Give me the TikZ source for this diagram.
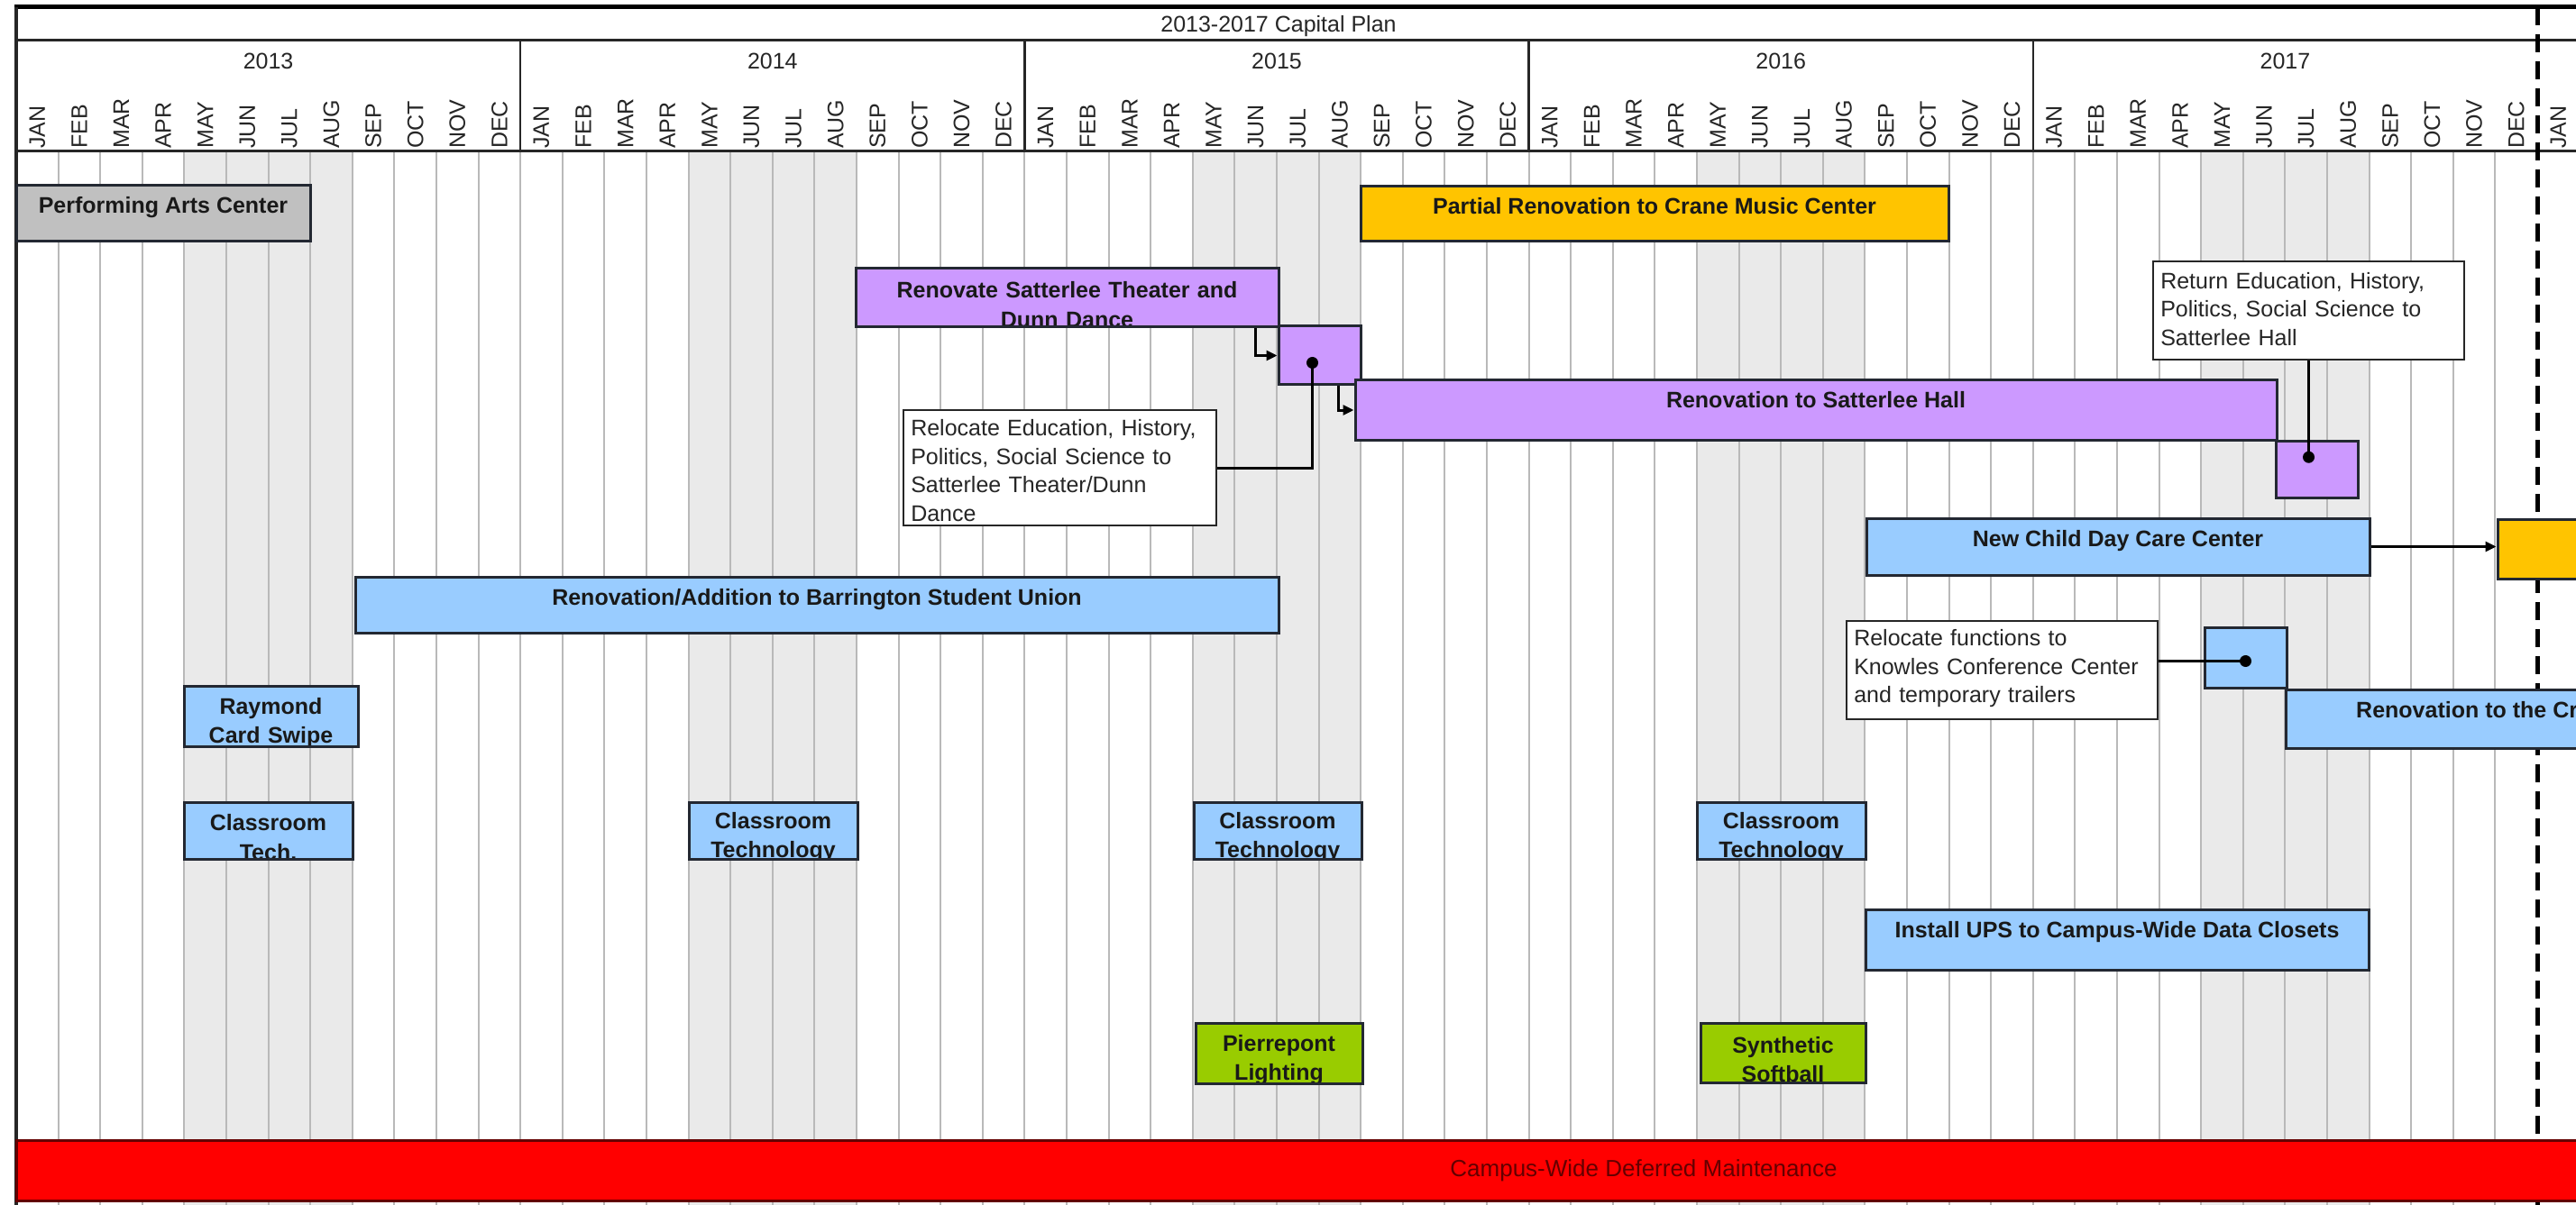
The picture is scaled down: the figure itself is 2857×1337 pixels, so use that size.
\documentclass[tikz,border=0pt]{standalone}
\usepackage{fontspec}
\setmainfont{Liberation Sans}
\usetikzlibrary{fit,arrows.meta,calc}
\definecolor{cblue}{RGB}{153,204,255}
\definecolor{cpurple}{RGB}{204,153,255}
\definecolor{cyellow}{RGB}{255,196,0}
\definecolor{cgray}{RGB}{192,192,192}
\definecolor{cgreen}{RGB}{153,204,0}
\definecolor{cred}{RGB}{255,0,0}
\definecolor{cshade}{RGB}{234,234,234}
\definecolor{cgrid}{RGB}{185,185,185}
\definecolor{cline}{RGB}{35,40,50}
\definecolor{cmaroon}{RGB}{100,0,0}
% one-line bar label
\newcommand\gbar[7]{\node[barnode, fill=#6, fit={(#2,#3) (#4,#5)}, path picture={\node[bartext, anchor=base] (#1t) at ([yshift=-31pt]path picture bounding box.north) {#7};}] (#1) {};}
% two-line bar label
\newcommand\gbartwo[7]{\node[barnode, fill=#6, fit={(#2,#3) (#4,#5)}, path picture={\node[bartext, align=center, anchor=north] (#1t) at ([yshift=-15pt]path picture bounding box.north) {#7};}] (#1) {};}
\newcommand\gcall[7][11]{\node[callnode, fit={(#3,#4) (#5,#6)}, path picture={\node[calltext, anchor=north west] (#2t) at ([xshift=7pt,yshift=-#1pt]path picture bounding box.north west) {#7};}] (#2) {};}
\begin{document}
\begin{tikzpicture}[x=1pt,y=-1pt,
  barnode/.style={draw=cline, line width=3pt, inner sep=0pt},
  bartext/.style={font=\fontsize{25}{32.5}\selectfont\bfseries, inner sep=0pt, text=black!90},
  callnode/.style={draw=black!85, fill=white, line width=2.5pt, inner sep=0pt},
  calltext/.style={font=\fontsize{25}{31.5}\selectfont, align=left, inner sep=0pt, text=black!85},
  headtext/.style={font=\fontsize{25}{30}\selectfont, inner sep=0pt, text=black!85},
  monthl/.style={headtext, rotate=90, anchor=west},
  gridl/.style={draw=cgrid, line width=2pt},
  hline/.style={draw=black!85, line width=3pt},
  conn/.style={draw=black, line width=3pt},
  arr/.style={conn, -{Triangle[length=12pt,width=11pt]}},
  dotn/.style={circle, fill=black, inner sep=0pt, minimum size=13pt}]
\useasboundingbox (0,0) rectangle (2857,1337);
\clip (0,0) rectangle (2857,1337);
\fill[white] (0,0) rectangle (2857,1337);
% summer shading
\foreach \k in {0,...,4}
  \fill[cshade] ({18+46.6*(12*\k+4)},168) rectangle ({18+46.6*(12*\k+8)},1337);
% grid lines
\foreach \m in {1,...,59}
  \draw[gridl] ({18+46.6*\m},168) -- ({18+46.6*\m},1337);
% header
\draw[hline] (18,45) -- (2857,45);
\draw[hline] (18,168) -- (2857,168);
\foreach \k in {1,...,4}
  \draw[hline, line width=2.5pt] ({18+46.6*12*\k},45) -- ({18+46.6*12*\k},168);
\draw[black, line width=5pt] (16,8) -- (2857,8);
\draw[black!85, line width=4pt] (18,8) -- (18,1337);
\node[headtext] (title) at (1418,29) {2013-2017 Capital Plan};
\foreach \yr [count=\k from 0] in {2013,2014,2015,2016,2017}
  \node[headtext] (year\yr) at ({18+46.6*(12*\k+6)},68) {\yr};
\foreach \k in {0,...,4}
  \foreach \mn [count=\i from 0] in {JAN,FEB,MAR,APR,MAY,JUN,JUL,AUG,SEP,OCT,NOV,DEC}
    \node[monthl] (m\k-\i) at ({18+46.6*(12*\k+\i)+23.3},165) {\mn};
\node[monthl] (m5-0) at ({18+46.6*60+23.3},165) {JAN};
% end-of-plan dashed line
\draw[black, line width=5pt, dash pattern=on 20pt off 10pt] (2814,8) -- (2814,1337);
% bars
\gbar{pac}{18}{206}{344}{268}{cgray}{Performing Arts Center}
\gbar{crane}{1509}{207}{2161}{268}{cyellow}{Partial Renovation to Crane Music Center}
\gbartwo{theater}{949}{298}{1418}{363}{cpurple}{Renovate Satterlee Theater and\\Dunn Dance}
\gbar{boxa}{1418}{362}{1509}{427}{cpurple}{}
\gbar{hall}{1503}{422}{2525}{488}{cpurple}{Renovation to Satterlee Hall}
\gbar{boxb}{2524}{489}{2615}{552}{cpurple}{}
\gbar{daycare}{2070}{575}{2628}{638}{cblue}{New Child Day Care Center}
\gbar{craneb}{2770}{576}{2880}{642}{cyellow}{}
\gbar{union}{394}{640}{1418}{702}{cblue}{Renovation/Addition to Barrington Student Union}
\gbar{boxc}{2445}{696}{2536}{763}{cblue}{}
\node[barnode, fill=cblue, fit={(2535,765) (2900,830)}] (cr) {};
\node[bartext, anchor=base west] (crt) at (2613,796) {Renovation to the Cr};
\gbartwo{raymond}{204}{761}{397}{828}{cblue}{Raymond\\Card Swipe}
\gbartwo{cta}{204}{890}{391}{953}{cblue}{Classroom\\Tech.}
\gbartwo{ctb}{764}{890}{951}{953}{cblue}{Classroom\\Technology}
\gbartwo{ctc}{1324}{890}{1510}{953}{cblue}{Classroom\\Technology}
\gbartwo{ctd}{1882}{890}{2069}{953}{cblue}{Classroom\\Technology}
\gbar{ups}{2069}{1009}{2627}{1076}{cblue}{Install UPS to Campus-Wide Data Closets}
\gbartwo{pier}{1326}{1135}{1511}{1202}{cgreen}{Pierrepont\\Lighting}
\gbartwo{soft}{1886}{1135}{2069}{1201}{cgreen}{Synthetic\\Softball}
\node[barnode, draw=cmaroon, fill=cred, fit={(18,1265) (2900,1332)}] (cwdm) {};
\node[font=\fontsize{26}{30}\selectfont, inner sep=0pt, text=cmaroon] (cwdmt) at (1823,1299) {Campus-Wide Deferred Maintenance};
% callouts
\gcall{reloced}{1002}{455}{1349}{583}{Relocate Education, History,\\Politics, Social Science to\\Satterlee Theater/Dunn\\Dance}
\gcall[6]{ret}{2388}{290}{2733}{399}{Return Education, History,\\Politics, Social Science to\\Satterlee Hall}
\gcall[6]{funcs}{2048}{689}{2393}{798}{Relocate functions to\\Knowles Conference Center\\and temporary trailers}
% dots
\node[dotn] (dota) at ($(boxa.center)+(-8,8)$) {};
\node[dotn] (dotb) at ($(ret.south)+(0,107)$) {};
\node[dotn] (dotc) at ($(boxc.center)+(0,4)$) {};
% connectors
\draw[arr] ($(theater.south east)+(-27,0)$) |- (boxa.west);
\draw[arr] ($(boxa.south east)+(-26,0)$) |- (hall.west);
\draw[arr] (daycare.east) -- (daycare.east -| craneb.west);
\draw[conn] (reloced.east) -| (dota.center);
\draw[conn] (ret.south) -- (dotb.center);
\draw[conn] (funcs.east |- dotc.center) -- (dotc.center);
\end{tikzpicture}
\end{document}
